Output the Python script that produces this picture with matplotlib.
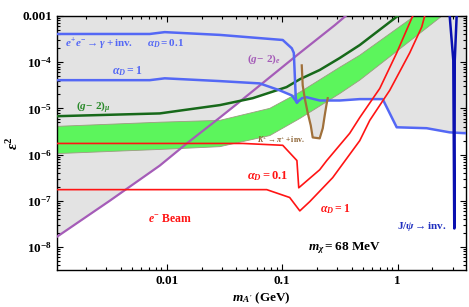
import matplotlib
matplotlib.use('Agg')
import matplotlib.pyplot as plt
from matplotlib.ticker import FixedLocator, LogLocator, NullFormatter
import numpy as np

plt.rcParams['font.family'] = ['Liberation Serif', 'DejaVu Serif']
plt.rcParams['font.weight'] = 'bold'
plt.rcParams['mathtext.fontset'] = 'custom'
plt.rcParams['mathtext.rm'] = 'Liberation Serif:bold'
plt.rcParams['mathtext.it'] = 'Liberation Serif:italic:bold'
plt.rcParams['mathtext.bf'] = 'Liberation Serif:bold'
plt.rcParams['mathtext.fallback'] = 'stix'

# (g-2)_e bound
ge_m = [0.00112, 0.00321, 0.00869, 0.0149, 0.0288, 0.0412, 0.142, 0.285, 0.362]
ge_le = [-7.78, -7.0, -6.24, -5.76, -5.2, -4.89, -3.8, -3.2, -2.98]

# (g-2)_mu bound line
gmu_m = [0.00112, 0.0087, 0.0138, 0.0288, 0.0555, 0.109, 0.142, 0.211, 0.315, 0.469, 1.0]
gmu_le = [-5.17, -5.11, -5.04, -4.93, -4.78, -4.54, -4.37, -4.17, -3.91, -3.63, -3.0]

# (g-2)_mu favoured band
band_up_m = [0.00112, 0.0087, 0.0288, 0.078, 0.142, 0.315, 0.469, 1.40]
band_up_le = [-5.39, -5.30, -5.26, -5.0, -4.65, -4.11, -3.85, -3.0]
band_lo_m = [0.00112, 0.0087, 0.0288, 0.078, 0.142, 0.315, 0.469, 2.42]
band_lo_le = [-5.98, -5.89, -5.83, -5.59, -5.22, -4.68, -4.39, -3.0]

# e+e- -> gamma + inv.
bl01_m = [0.00112, 0.00712, 0.0096, 0.0288, 0.101, 0.121, 0.126, 0.131, 0.134]
bl01_le = [-3.39, -3.39, -3.35, -3.41, -3.52, -3.70, -3.80, -4.78, -4.87]
bl1_m = [0.00112, 0.00712, 0.0096, 0.0288, 0.0638, 0.095, 0.121, 0.134]
bl1_le = [-4.39, -4.39, -4.35, -4.41, -4.46, -4.61, -4.72, -4.87]
bl_tail_m = [0.134, 0.148, 0.163, 0.211, 0.315, 0.469, 0.741, 0.98, 1.78, 2.82, 3.96]
bl_tail_le = [-4.87, -4.78, -4.76, -4.83, -4.83, -4.80, -4.80, -5.41, -5.43, -5.52, -5.54]

# K+ -> pi+ + inv.
k_m = [0.1476, 0.1504, 0.1566, 0.166, 0.1766, 0.1836, 0.211, 0.2244, 0.2334, 0.2428, 0.2478]
k_le = [-4.07, -4.50, -4.78, -5.09, -5.37, -5.63, -5.65, -5.43, -5.15, -4.89, -4.78]

# J/psi -> inv.
jp_m = [2.82, 3.03, 3.09, 3.10, 3.12, 3.24]
jp_le = [-3.0, -3.96, -7.6, -7.6, -3.96, -3.0]

# electron beam projections
r01_m = [0.00112, 0.0087, 0.0455, 0.101, 0.134, 0.139, 0.211, 0.243, 0.384, 0.469, 0.699, 0.98, 1.27, 1.35]
r01_le = [-5.76, -5.76, -5.76, -5.80, -6.13, -6.72, -6.33, -6.13, -5.54, -5.20, -4.57, -3.80, -3.15, -3.0]
r1_m = [0.00112, 0.0087, 0.0734, 0.116, 0.142, 0.173, 0.2735, 0.469, 0.573, 0.853, 1.27, 1.614, 1.713]
r1_le = [-6.76, -6.76, -6.76, -6.93, -7.22, -7.02, -6.5, -5.7, -5.26, -4.61, -3.80, -3.24, -3.0]


def e2(le):
    return 10.0 ** np.array(le)


fig = plt.figure(figsize=(4.69, 3.07), dpi=100)
ax = fig.add_axes([0.1215, 0.1205, 0.872, 0.8275])
ax.set_xscale('log')
ax.set_yscale('log')
ax.set_xlim(0.00112, 3.9)
ax.set_ylim(10 ** -8.5, 1e-3)

gray = '#e3e3e3'
top = 1e-2
for mm, le in [(ge_m, ge_le), (gmu_m, gmu_le), (bl1_m, bl1_le),
               (bl_tail_m, bl_tail_le), (k_m, k_le)]:
    ax.fill_between(mm, e2(le), top, color=gray, lw=0, zorder=1)

ax.fill(np.concatenate([band_up_m, band_lo_m[::-1]]),
        np.concatenate([e2(band_up_le), e2(band_lo_le)[::-1]]),
        facecolor='#5cf55c', edgecolor='#9c9c80', lw=0.6, zorder=2)

blue = '#5468f5'
ax.plot(ge_m, e2(ge_le), color='#a55cb8', lw=1.6, zorder=3)
ax.plot(gmu_m, e2(gmu_le), color='#17691a', lw=1.8, zorder=3)
ax.plot(bl01_m, e2(bl01_le), color=blue, lw=1.8, zorder=4)
ax.plot(bl1_m, e2(bl1_le), color=blue, lw=1.8, zorder=4)
ax.plot(bl_tail_m, e2(bl_tail_le), color=blue, lw=1.8, zorder=4)
ax.plot(k_m, e2(k_le), color='#a0703a', lw=1.6, zorder=5)
ax.plot(jp_m, e2(jp_le), color='#0a10b0', lw=1.8, zorder=5)
ax.plot(r01_m, e2(r01_le), color='#ff1414', lw=1.2, zorder=6)
ax.plot(r1_m, e2(r1_le), color='#ff1414', lw=1.2, zorder=6)

# annotations
ax.text(0.00131, 2.46e-4, r'$e^{+}e^{-}\rightarrow\gamma+$inv.', color=blue,
        fontsize=8, va='center', ha='left', zorder=7)
ax.text(0.0067, 2.46e-4, r'$\alpha_D=$0.1', color=blue,
        fontsize=8, va='center', ha='left', zorder=7)
ax.text(0.00334, 6.37e-5, r'$\alpha_D=$1', color=blue,
        fontsize=8.5, va='center', ha='left', zorder=7)
ax.text(0.0493, 1.16e-4, r'$(g\!-\,2)_e$', color='#a55cb8',
        fontsize=8, va='center', ha='left', zorder=7)
ax.text(0.00163, 1.05e-5, r'$(g\!-\,2)_\mu$', color='#2a8a2a',
        fontsize=8, va='center', ha='left', zorder=7)
ax.text(0.0601, 2.12e-6, r'$K^{+}\rightarrow\pi^{+}+$inv.', color='#8a6030',
        fontsize=5.6, va='center', ha='left', zorder=7)
ax.text(0.0493, 3.49e-7, r'$\alpha_D=$0.1', color='#ff1414',
        fontsize=9, va='center', ha='left', zorder=7)
ax.text(0.211, 6.7e-8, r'$\alpha_D=$1', color='#ff1414',
        fontsize=8.5, va='center', ha='left', zorder=7)
ax.text(0.00684, 4.07e-8, r'$e^{-}$ Beam', color='#ff1414',
        fontsize=8.5, va='center', ha='left', zorder=7)
ax.text(2.65, 2.72e-8, r'J/$\psi\rightarrow$inv.', color='#2030c0',
        fontsize=8, va='center', ha='right', zorder=7)
ax.text(0.166, 9.5e-9, r'$m_\chi=$68 MeV', color='black',
        fontsize=9.5, va='center', ha='left', zorder=7)

ax.xaxis.set_major_locator(FixedLocator([0.01, 0.1, 1]))
ax.set_xticklabels(['0.01', '0.1', '1'])
ax.xaxis.set_minor_locator(LogLocator(base=10, subs=np.arange(2, 10)))
ax.xaxis.set_minor_formatter(NullFormatter())
ax.yaxis.set_major_locator(FixedLocator([1e-8, 1e-7, 1e-6, 1e-5, 1e-4, 1e-3]))
ax.set_yticklabels([r'$10^{-8}$', r'$10^{-7}$', r'$10^{-6}$', r'$10^{-5}$',
                    r'$10^{-4}$', '0.001'])
ax.yaxis.set_minor_locator(LogLocator(base=10, subs=np.arange(2, 10)))
ax.yaxis.set_minor_formatter(NullFormatter())
ax.tick_params(which='both', direction='in', top=True, right=True,
               labelsize=9.5, width=0.8)
ax.tick_params(which='major', length=4)
ax.tick_params(which='minor', length=2)
for s in ax.spines.values():
    s.set_linewidth(1.0)

fig.text(0.5575, 0.03, r"$m_{A'}$ (GeV)", ha='center', va='center', fontsize=9.5)
fig.text(0.028, 0.535, r'$\epsilon^2$', ha='center', va='center', fontsize=11,
         rotation=90)

fig.savefig('out.png', dpi=100)
